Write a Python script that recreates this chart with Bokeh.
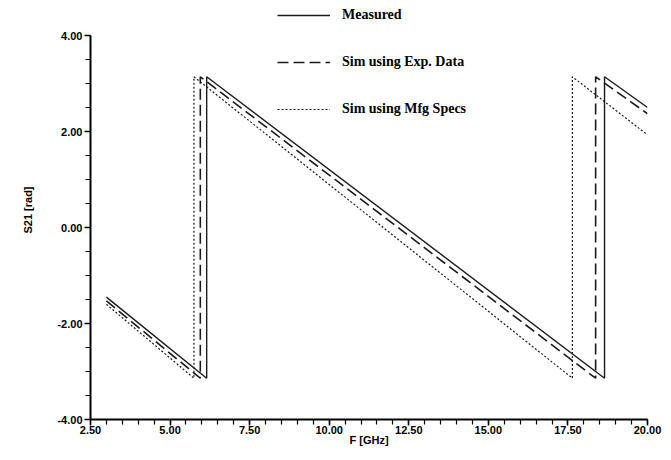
from bokeh.plotting import figure
from bokeh.models import FixedTicker, PrintfTickFormatter, Legend, LegendItem, Range1d
from bokeh.embed import file_html
from bokeh.resources import INLINE

# ---- data ----
meas_x = [3.0, 6.15, 6.15, 18.65, 18.65, 20.0]
meas_y = [-1.45, -3.14, 3.14, -3.14, 3.14, 2.50]
exp_x = [3.0, 5.95, 5.95, 18.37, 18.37, 20.0]
exp_y = [-1.53, -3.14, 3.14, -3.14, 3.14, 2.37]
mfg_x = [3.0, 5.75, 5.75, 17.64, 17.64, 20.0]
mfg_y = [-1.60, -3.14, 3.14, -3.14, 3.14, 1.93]

x_ticks = [2.5, 5.0, 7.5, 10.0, 12.5, 15.0, 17.5, 20.0]
x_minor = [2.5 + 0.5 * i for i in range(36)]
y_ticks = [-4.0, -2.0, 0.0, 2.0, 4.0]
y_minor = [-4.0 + 0.5 * i for i in range(17)]

labels = ["Measured", "Sim using Exp. Data", "Sim using Mfg Specs"]

# frame reaches the top of the page so the legend (which sits above 4.00) is not clipped;
# the axis itself is bounded to [-4, 4]
p = figure(width=671, height=460, output_backend="svg", toolbar_location=None,
           x_range=Range1d(2.5, 20.0), y_range=Range1d(-4.0, 4.0 + 35.0 / 48.0),
           min_border_left=90, min_border_right=24, min_border_top=0, min_border_bottom=41)
p.outline_line_color = None
p.xgrid.visible = False
p.ygrid.visible = False
p.background_fill_color = "white"
p.border_fill_color = "white"

r1 = p.line(meas_x, meas_y, line_color="#1a1a1a", line_width=1.4)
r2 = p.line(exp_x, exp_y, line_color="#1a1a1a", line_width=1.6, line_dash="11 5")
r3 = p.line(mfg_x, mfg_y, line_color="#1a1a1a", line_width=1.2, line_dash="2 2")

font = "Liberation Sans"
for ax in (p.xaxis[0], p.yaxis[0]):
    ax.axis_line_color = "black"
    ax.axis_line_width = 2
    ax.major_tick_line_color = "black"
    ax.minor_tick_line_color = "black"
    ax.major_tick_line_width = 1.5
    ax.minor_tick_line_width = 1.2
    ax.major_tick_in = 0
    ax.minor_tick_in = 0
    ax.major_tick_out = 6
    ax.minor_tick_out = 5
    ax.major_label_text_font = font
    ax.major_label_text_font_style = "bold"
    ax.major_label_text_font_size = "11px"
    ax.major_label_text_color = "black"
    ax.axis_label_text_font = font
    ax.axis_label_text_font_style = "bold"
    ax.axis_label_text_font_size = "11px"
    ax.axis_label_text_color = "black"
    ax.formatter = PrintfTickFormatter(format="%.2f")

p.xaxis[0].ticker = FixedTicker(ticks=x_ticks, minor_ticks=x_minor)
p.yaxis[0].ticker = FixedTicker(ticks=y_ticks, minor_ticks=y_minor)
p.yaxis[0].bounds = (-4.0, 4.0)
p.xaxis[0].axis_label = "F [GHz]"
p.yaxis[0].axis_label = "S21 [rad]"
p.xaxis[0].major_label_standoff = 0
p.xaxis[0].axis_label_standoff = -3
p.yaxis[0].major_label_standoff = 2
p.yaxis[0].axis_label_standoff = 20

legend = Legend(items=[LegendItem(label=labels[0], renderers=[r1]),
                       LegendItem(label=labels[1], renderers=[r2]),
                       LegendItem(label=labels[2], renderers=[r3])],
                location=(187, 300), orientation="vertical")
legend.glyph_width = 53
legend.glyph_height = 20
legend.label_height = 20
legend.spacing = 27
legend.label_standoff = 12
legend.padding = 0
legend.margin = 0
legend.border_line_color = None
legend.background_fill_alpha = 0
legend.label_text_font = "Liberation Serif"
legend.label_text_font_style = "bold"
legend.label_text_font_size = "14px"
legend.label_text_color = "black"
p.add_layout(legend)

open("out.html", "w").write(file_html(p, INLINE))
